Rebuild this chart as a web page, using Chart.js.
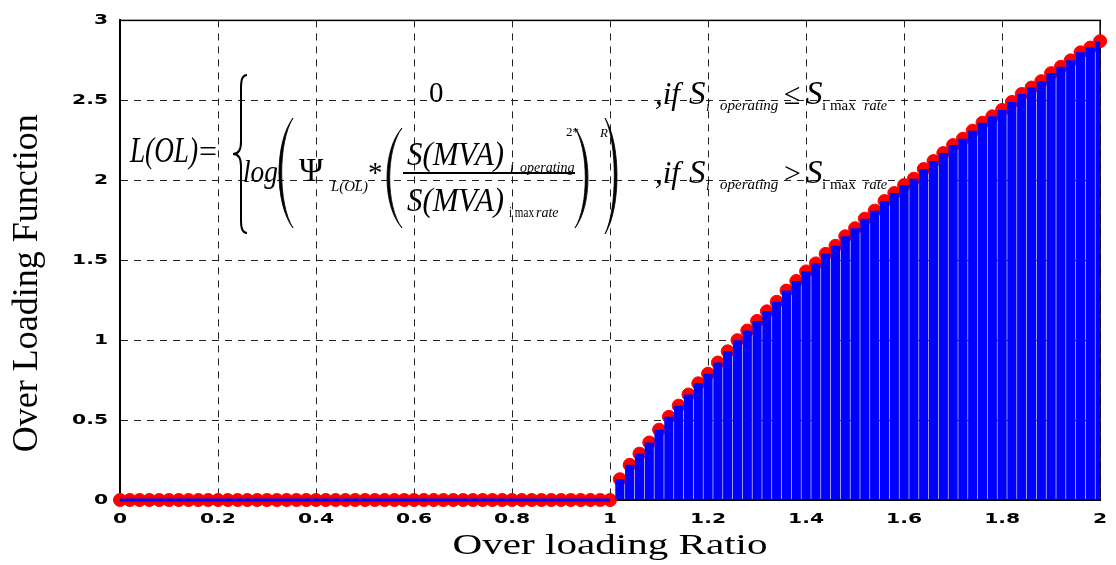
<!DOCTYPE html>
<html>
<head>
<meta charset="utf-8">
<script src="https://cdn.jsdelivr.net/npm/chart.js@4.4.0/dist/chart.umd.min.js"></script>
<style>
  html, body { margin: 0; padding: 0; background: #fff; }
  #wrap { width: 1116px; height: 565px; }
</style>
</head>
<body>
<div id="wrap"><canvas id="chart" width="1116" height="565"></canvas></div>
<script>
// over loading ratio below / at rated value -> function is zero
const idleRatio = [0, 0.02, 0.04, 0.06, 0.08, 0.1, 0.12, 0.14, 0.16, 0.18, 0.2, 0.22, 0.24, 0.26, 0.28, 0.3, 0.32, 0.34, 0.36, 0.38, 0.4,
    0.42, 0.44, 0.46, 0.48, 0.5, 0.52, 0.54, 0.56, 0.58, 0.6, 0.62, 0.64, 0.66, 0.68, 0.7, 0.72, 0.74, 0.76, 0.78, 0.8,
    0.82, 0.84, 0.86, 0.88, 0.9, 0.92, 0.94, 0.96, 0.98, 1];
const idleValue = [0, 0, 0, 0, 0, 0, 0, 0, 0, 0, 0, 0, 0, 0, 0, 0, 0, 0, 0, 0, 0,
    0, 0, 0, 0, 0, 0, 0, 0, 0, 0, 0, 0, 0, 0, 0, 0, 0, 0, 0, 0,
    0, 0, 0, 0, 0, 0, 0, 0, 0, 0];

// over loaded part
const loadRatio = [1.02, 1.04, 1.06, 1.08, 1.1, 1.12, 1.14, 1.16, 1.18, 1.2, 1.22, 1.24, 1.26, 1.28, 1.3, 1.32, 1.34, 1.36, 1.38, 1.4,
    1.42, 1.44, 1.46, 1.48, 1.5, 1.52, 1.54, 1.56, 1.58, 1.6, 1.62, 1.64, 1.66, 1.68, 1.7, 1.72, 1.74, 1.76, 1.78, 1.8,
    1.82, 1.84, 1.86, 1.88, 1.9, 1.92, 1.94, 1.96, 1.98, 2];
const loadValue = [0.13, 0.22, 0.29, 0.36, 0.44, 0.52, 0.59, 0.66, 0.73, 0.79, 0.86, 0.93, 1.00, 1.06, 1.12, 1.18, 1.24, 1.31, 1.37, 1.43,
    1.48, 1.54, 1.59, 1.65, 1.70, 1.76, 1.81, 1.87, 1.92, 1.97, 2.01, 2.07, 2.12, 2.17, 2.22, 2.26, 2.31, 2.36, 2.40, 2.44,
    2.49, 2.54, 2.58, 2.62, 2.67, 2.71, 2.75, 2.80, 2.83, 2.87];

const xTicks = [0, 0.2, 0.4, 0.6, 0.8, 1, 1.2, 1.4, 1.6, 1.8, 2];
const yTicks = [0, 0.5, 1, 1.5, 2, 2.5, 3];

const toPts = (xs, ys) => xs.map((x, i) => ({ x: x, y: ys[i] }));

const serif = '"Liberation Serif", "Times New Roman", serif';

// draw text stretched sideways (the figure is wider than tall)
function stretchText(scale, method, sx, dy) {
    const orig = scale[method];
    scale[method] = function (...args) {
        const c = this.ctx;
        const ft = c.fillText;
        c.fillText = function (t, x, y) {
            c.save();
            c.translate(x, y);
            c.scale(sx, 1);
            ft.call(c, t, 0, 0);
            c.restore();
        };
        c.save();
        if (dy) c.translate(0, dy);
        orig.apply(this, args);
        c.restore();
        delete c.fillText;
    };
}

function txt(ctx, s, x, y, size, style, maxW) {
    ctx.font = (style || '') + ' ' + size + 'px ' + serif;
    if (maxW) ctx.fillText(s, x, y, maxW);
    else ctx.fillText(s, x, y);
}

// thin tapered parenthesis, dir 1 = "(", -1 = ")"
function paren(ctx, x0, y0, x1, y1, dir) {
    const h = y1 - y0;
    const outer = dir > 0 ? x0 : x1;
    const tip = dir > 0 ? x1 : x0;
    const c1 = outer - dir * (Math.abs(x1 - x0) / 3);
    const c2 = c1 + dir * 3.6;
    ctx.beginPath();
    ctx.moveTo(tip, y0);
    ctx.bezierCurveTo(c1, y0 + h * 0.22, c1, y1 - h * 0.22, tip, y1);
    ctx.bezierCurveTo(c2, y1 - h * 0.22, c2, y0 + h * 0.22, tip, y0);
    ctx.closePath();
    ctx.fill();
    ctx.lineWidth = 0.8;
    ctx.stroke();
}

function brace(ctx, x0, y0, x1, y1) {
    const xm = (x0 + x1) / 2 + 1;
    const ym = (y0 + y1) / 2;
    ctx.beginPath();
    ctx.moveTo(x1, y0);
    ctx.quadraticCurveTo(xm, y0, xm, y0 + 12);
    ctx.lineTo(xm, ym - 12);
    ctx.quadraticCurveTo(xm, ym, x0, ym);
    ctx.quadraticCurveTo(xm, ym, xm, ym + 12);
    ctx.lineTo(xm, y1 - 12);
    ctx.quadraticCurveTo(xm, y1, x1, y1);
    ctx.lineWidth = 2;
    ctx.stroke();
}

const figurePlugin = {
    id: 'figure',
    afterLayout(chart) {
        const sx = chart.scales.x, sy = chart.scales.y;
        if (!sx._patched) {
            stretchText(sx, 'drawLabels', 1.45);
            stretchText(sx, 'drawTitle', 1.37);
            sx._patched = true;
        }
        if (!sy._patched) {
            stretchText(sy, 'drawLabels', 1.45);
            stretchText(sy, 'drawTitle', 1, 23);
            sy._patched = true;
        }
    },
    beforeDatasetsDraw(chart) {
        const a = chart.chartArea, ctx = chart.ctx;
        ctx.save();
        ctx.strokeStyle = '#000';
        ctx.lineWidth = 1.5;
        ctx.strokeRect(a.left, a.top, a.right - a.left, a.bottom - a.top);
        ctx.restore();
    },
    afterDatasetsDraw(chart) {
        const ctx = chart.ctx;
        ctx.save();
        ctx.fillStyle = '#000';
        ctx.strokeStyle = '#000';
        ctx.textAlign = 'left';
        ctx.textBaseline = 'alphabetic';

        txt(ctx, 'L(OL)', 130, 162, 35, 'italic', 68);
        txt(ctx, '=', 199, 162, 32);
        brace(ctx, 233, 75, 247, 233);

        // first case
        txt(ctx, '0', 429, 102, 29);

        // second case
        txt(ctx, 'log', 243, 182, 31, 'italic', 35);
        paren(ctx, 279, 118, 293, 228, 1);
        txt(ctx, 'Ψ', 299, 181, 33, '', 30);
        txt(ctx, 'L(OL)', 331, 191, 15, 'italic', 37);
        txt(ctx, '*', 368, 182, 29);
        paren(ctx, 387, 128, 402, 228, 1);
        txt(ctx, 'S(MVA)', 407, 165, 33, 'italic', 97);
        txt(ctx, 'i', 510, 172, 14, 'italic');
        txt(ctx, 'operating', 520, 172, 14, 'italic', 55);
        ctx.fillRect(403, 172, 172, 2);
        txt(ctx, 'S(MVA)', 407, 211, 33, 'italic', 97);
        txt(ctx, 'i max', 509, 217, 14, '', 25);
        txt(ctx, 'rate', 536, 217, 14, 'italic', 23);
        paren(ctx, 575, 128, 588, 228, -1);
        txt(ctx, '2*', 566, 136, 13);
        txt(ctx, 'R', 600, 137, 13, 'italic');
        paren(ctx, 605, 118, 617, 234, -1);

        // conditions
        const rows = [[104, '≤'], [183, '>']];
        rows.forEach(([b, op]) => {
            txt(ctx, ',if', 655, b, 31, 'italic', 25);
            txt(ctx, 'S', 689, b, 33, 'italic');
            txt(ctx, 'i', 706, b + 7, 14, 'italic');
            txt(ctx, 'operating', 720, b + 6, 15, 'italic', 63);
            txt(ctx, op, 784, b, 30, '', 18);
            txt(ctx, 'S', 806, b, 33, 'italic');
            txt(ctx, 'i max', 822, b + 6, 15, '', 39);
            txt(ctx, 'rate', 864, b + 6, 15, 'italic', 23);
        });
        ctx.restore();
    }
};

const tickFont = { family: '"DejaVu Sans"', weight: 'bold', size: 14 };
const fmt = v => String(Math.round(v * 10) / 10);

new Chart(document.getElementById('chart'), {
    type: 'bar',
    data: {
        datasets: [
            {
                type: 'line',
                data: toPts(idleRatio, idleValue),
                borderColor: '#0000ff',
                borderWidth: 3,
                pointRadius: 0,
                clip: false,
                order: 1
            },
            {
                type: 'bar',
                data: toPts(loadRatio, loadValue),
                backgroundColor: '#0000ff',
                borderWidth: 0,
                barPercentage: 0.94,
                categoryPercentage: 1,
                order: 2
            },
            {
                type: 'scatter',
                data: toPts(idleRatio.concat(loadRatio), idleValue.concat(loadValue)),
                pointRadius: 6.5,
                pointBackgroundColor: '#ff0000',
                pointBorderColor: '#ff0000',
                pointBorderWidth: 1,
                showLine: false,
                clip: false,
                order: 3
            }
        ]
    },
    options: {
        responsive: false,
        animation: false,
        layout: { padding: { left: 0, right: 11, top: 17, bottom: 0 } },
        plugins: { legend: { display: false }, tooltip: { enabled: false } },
        scales: {
            x: {
                type: 'linear',
                min: 0,
                max: 2,
                offset: false,
                afterFit: s => { s.height = 65; },
                afterBuildTicks: s => { s.ticks = xTicks.map(v => ({ value: v })); },
                ticks: { font: tickFont, color: '#000', padding: 11, callback: fmt, maxRotation: 0, autoSkip: false },
                grid: { color: '#222', lineWidth: 1, drawTicks: false, offset: false },
                border: { display: true, color: '#000', width: 2, dash: [7, 6] },
                title: {
                    display: true,
                    text: 'Over loading Ratio',
                    font: { family: serif, size: 30 },
                    color: '#000',
                    padding: { top: 0, bottom: 1 }
                }
            },
            y: {
                min: 0,
                max: 3,
                afterFit: s => { s.width = 120; },
                afterBuildTicks: s => { s.ticks = yTicks.map(v => ({ value: v })); },
                ticks: { font: tickFont, color: '#000', padding: 12, callback: fmt },
                grid: { color: '#222', lineWidth: 1, drawTicks: false },
                border: { display: true, color: '#000', width: 2, dash: [7, 6] },
                title: {
                    display: true,
                    text: 'Over Loading Function',
                    font: { family: serif, size: 36 },
                    color: '#000',
                    padding: { top: 6, bottom: 0 }
                }
            }
        }
    },
    plugins: [figurePlugin]
});
</script>
</body>
</html>
